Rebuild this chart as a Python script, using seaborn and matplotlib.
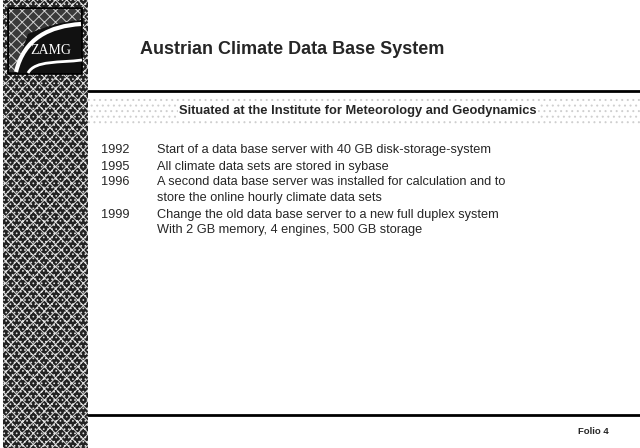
import matplotlib
matplotlib.use("Agg")
import matplotlib.pyplot as plt
import seaborn as sns
from matplotlib.patches import Rectangle, PathPatch
from matplotlib.path import Path

title = "Austrian Climate Data Base System"
subtitle = "Situated at the Institute for Meteorology and Geodynamics"
years = ["1992", "1995", "1996", "", "1999", ""]
events = [
    "Start of a data base server with 40 GB disk-storage-system",
    "All climate data sets are stored in sybase",
    "A second data base server was installed for calculation and to",
    "store the online hourly climate data sets",
    "Change the old data base server to a new full duplex system",
    "With 2 GB memory, 4 engines, 500 GB storage",
]
footer = "Folio 4"
logo_text = "ZAMG"

sns.set_theme(style="white")
plt.rcParams['font.family'] = ['Liberation Sans', 'DejaVu Sans']
plt.rcParams['hatch.linewidth'] = 0.7

fig = plt.figure(figsize=(6.4, 4.48), dpi=100)
ax = fig.add_axes([0, 0, 1, 1])
ax.set_xlim(0, 640)
ax.set_ylim(448, 0)
ax.axis('off')

# textured left stripe
plt.rcParams['hatch.color'] = '#e0e0e0'
ax.add_patch(Rectangle((3, 0), 85, 448, facecolor='#222222', edgecolor='#e0e0e0',
                       hatch='xxx....', lw=0, zorder=1))
# logo
ax.add_patch(Rectangle((8, 8), 74, 66, facecolor='#111111', edgecolor='black',
                       lw=1.2, zorder=2))
plt.rcParams['hatch.color'] = '#d0d0d0'
top = Path([(9, 9), (81, 9), (81, 20), (55, 22), (28, 34), (14, 72), (9, 72), (9, 9)],
           [Path.MOVETO, Path.LINETO, Path.LINETO, Path.CURVE3, Path.CURVE3,
            Path.LINETO, Path.LINETO, Path.CLOSEPOLY])
ax.add_patch(PathPatch(top, facecolor='#3a3a3a', edgecolor='#d0d0d0', hatch='xxx',
                       lw=0, zorder=2.5))
verts = [(16, 72), (24, 38), (50, 26), (81, 24)]
ax.add_patch(PathPatch(Path(verts, [Path.MOVETO, Path.CURVE4, Path.CURVE4, Path.CURVE4]),
                       fill=False, edgecolor='white', lw=3, zorder=3))
verts2 = [(28, 73), (35, 60), (60, 63), (82, 60)]
ax.add_patch(PathPatch(Path(verts2, [Path.MOVETO, Path.CURVE4, Path.CURVE4, Path.CURVE4]),
                       fill=False, edgecolor='white', lw=2, zorder=3))
ax.text(51, 50, logo_text, color='white', fontsize=10, fontfamily='Liberation Serif',
        ha='center', va='center', zorder=4)

# title
ax.text(140, 50, title, fontsize=13, fontweight='bold', ha='left', va='center')

# top rule and banner
ax.plot([88, 640], [91, 91], color='black', lw=2)
plt.rcParams['hatch.color'] = '#cfcfcf'
ax.add_patch(Rectangle((88, 98), 552, 26, facecolor='white', edgecolor='#cfcfcf',
                       hatch='...', lw=0, zorder=1))
ax.text(358, 111, subtitle, fontsize=9.3, fontweight='bold', ha='center', va='center',
        bbox=dict(facecolor='white', edgecolor='none', pad=1), zorder=3)

row_y = [150, 167, 182, 198, 215, 230]
for yr, ev, y in zip(years, events, row_y):
    ax.text(101, y, yr, fontsize=9.2, ha='left', va='center')
    ax.text(157, y, ev, fontsize=9.2, ha='left', va='center')

# bottom rule and footer
ax.plot([88, 640], [415, 415], color='black', lw=2)
ax.text(593, 432, footer, fontsize=6.8, fontweight='bold', ha='center', va='center')

fig.savefig("out.png", dpi=100)
